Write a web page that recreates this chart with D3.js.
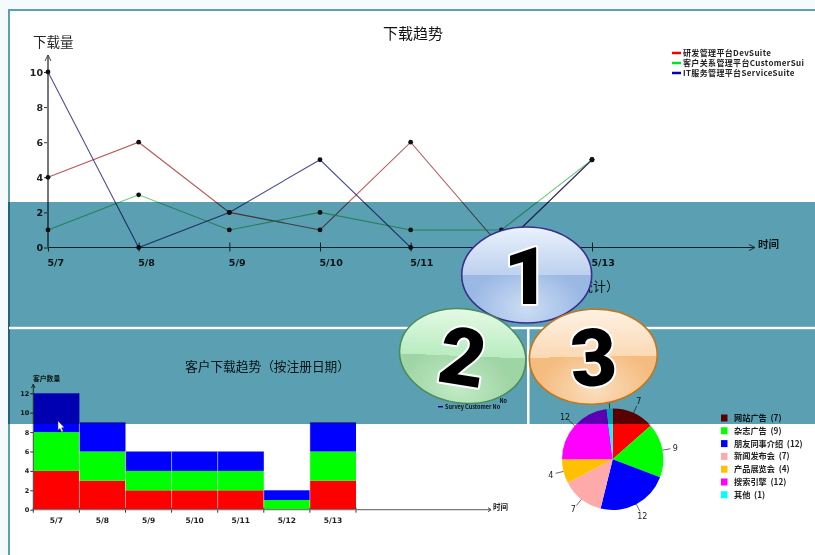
<!DOCTYPE html>
<html>
<head>
<meta charset="utf-8">
<script src="https://cdn.jsdelivr.net/npm/d3@7"></script>
<style>
html, body { margin: 0; padding: 0; background: #f5fafd; overflow: hidden; }
svg { display: block; }
text { font-family: "Noto Sans CJK SC", "DejaVu Sans", sans-serif; }
.soft { filter: blur(0.4px); }
.axis text { font-family: "DejaVu Sans", sans-serif; font-weight: bold; fill: #222; }
</style>
</head>
<body>
<script>
// line chart
const dates = ["5/7", "5/8", "5/9", "5/10", "5/11", "5/12", "5/13"];
const lineTicks = [0, 2, 4, 6, 8, 10];
const devDownloads = [4, 6, 2, 1, 6, 0, 5];
const customerDownloads = [1, 3, 1, 2, 1, 1, 5];
const serviceDownloads = [10, 0, 2, 5, 0, 0, 5];
const lineNames = ["研发管理平台DevSuite", "客户关系管理平台CustomerSui", "IT服务管理平台ServiceSuite"];

// stacked bars
const barTicks = [0, 2, 4, 6, 8, 10, 12];
const devCustomers = [4, 3, 2, 2, 2, 0, 3];
const crmCustomers = [4, 3, 2, 2, 2, 1, 3];
const surveyCustomers = [4, 3, 2, 2, 2, 1, 3];

// pie
const sources = ["网站广告", "杂志广告", "朋友同事介绍", "新闻发布会", "产品展览会", "搜索引擎", "其他"];
const sourceCounts = [7, 9, 12, 7, 4, 12, 1];
const sourceColors = ["#ff0000", "#00ff00", "#0000ff", "#ffaaaa", "#ffc000", "#ff00ff", "#00ffff"];

const width = 815, height = 555;
const svg = d3.select("body").append("svg").attr("width", width).attr("height", height);

svg.append("rect").attr("width", width).attr("height", height).attr("fill", "#f5fafd");
svg.append("rect").attr("x", 8).attr("y", 9).attr("width", width).attr("height", height).attr("fill", "#5a9fb2");
svg.append("rect").attr("x", 10).attr("y", 11).attr("width", width).attr("height", height).attr("fill", "#fff");

const charts = svg.append("g").attr("class", "soft");

function arrow(g, points) {
  g.append("path").attr("fill", "none").attr("stroke", "#444").attr("stroke-width", 1)
    .attr("d", d3.line()(points));
}

// ---- line chart ----
const xLine = d3.scalePoint().domain(dates).range([48, 592]);
const yLine = d3.scaleLinear().domain([0, 10]).range([247.5, 72]);

const lineChart = charts.append("g");

// the 5/12 tick label sits behind the first oval in the picture
lineChart.append("g").attr("class", "axis")
  .attr("transform", `translate(0, ${yLine(0)})`)
  .call(d3.axisBottom(xLine).tickSize(4).tickSizeOuter(0).tickPadding(5)
    .tickFormat(d => d === "5/12" ? "" : d))
  .call(g => g.select(".domain").remove())
  .call(g => g.selectAll("line").attr("y1", -5).attr("stroke", "#333"))
  .call(g => g.selectAll("text").attr("text-anchor", "start").attr("font-size", 9.5).attr("dx", -1).attr("dy", 9));

lineChart.append("g").attr("class", "axis")
  .attr("transform", `translate(${xLine("5/7")}, 0)`)
  .call(d3.axisLeft(yLine).tickValues(lineTicks).tickSize(4).tickSizeOuter(0).tickPadding(1))
  .call(g => g.select(".domain").remove())
  .call(g => g.selectAll("line").attr("stroke", "#333"))
  .call(g => g.selectAll("text").attr("font-size", 9.5));

// axis lines run past the data, with open arrow heads
lineChart.append("line").attr("x1", 48).attr("x2", 755).attr("y1", yLine(0)).attr("y2", yLine(0)).attr("stroke", "#333");
lineChart.append("line").attr("x1", 48).attr("x2", 48).attr("y1", yLine(0)).attr("y2", 55).attr("stroke", "#777").attr("stroke-width", 2);
arrow(lineChart, [[749, yLine(0) - 3], [755, yLine(0)], [749, yLine(0) + 3]]);
arrow(lineChart, [[45, 61], [48, 55], [51, 61]]);

const lineGenerator = d3.line().x((d, i) => xLine(dates[i])).y(d => yLine(d));
const lineSeries = [
  { values: devDownloads, color: "#a83030", legend: "#f00000" },
  { values: customerDownloads, color: "#40c060", legend: "#00e030" },
  { values: serviceDownloads, color: "#24247c", legend: "#0000c8" }
];

lineSeries.forEach(s => {
  lineChart.append("path").attr("fill", "none")
    .attr("stroke", s.color).attr("stroke-width", 1.1).attr("stroke-opacity", 0.8)
    .attr("d", lineGenerator(s.values));
});
lineSeries.forEach(s => {
  lineChart.selectAll(null).data(s.values).join("circle")
    .attr("cx", (d, i) => xLine(dates[i])).attr("cy", d => yLine(d))
    .attr("r", 2.4).attr("fill", "#111");
});

const lineLegend = lineChart.selectAll(".lg").data(lineSeries).join("g")
  .attr("transform", (d, i) => `translate(672, ${53 + i * 10})`);
lineLegend.append("line").attr("x2", 9).attr("stroke", d => d.legend).attr("stroke-width", 2.5);
lineLegend.append("text").attr("x", 11).attr("y", 3).attr("font-size", 8).attr("letter-spacing", 0.35).attr("font-weight", "bold")
  .attr("fill", "#222").text((d, i) => lineNames[i]);

lineChart.append("text").attr("x", 33).attr("y", 47).attr("font-size", 13.5).attr("fill", "#222").text("下载量");
lineChart.append("text").attr("x", 413).attr("y", 39).attr("text-anchor", "middle").attr("font-size", 15).attr("fill", "#111").text("下载趋势");
lineChart.append("text").attr("x", 758).attr("y", 248).attr("font-size", 10.5).attr("font-weight", "bold").attr("fill", "#222").text("时间");

// ---- second title, mostly hidden behind the first oval ----
charts.append("text").attr("x", 619).attr("y", 291).attr("text-anchor", "end").attr("font-size", 13).attr("fill", "#222").text("统计）");
charts.append("text").attr("x", 267.5).attr("y", 371).attr("text-anchor", "middle").attr("font-size", 12.7).attr("fill", "#222").text("客户下载趋势（按注册日期）");

// ---- stacked bars ----
const xBar = d3.scaleBand().domain(dates).range([33.3, 356]);
const yBar = d3.scaleLinear().domain([0, 12]).range([509.7, 393.3]);

const barChart = charts.append("g");
const stackRows = dates.map((d, i) => ({ date: d, dev: devCustomers[i], crm: crmCustomers[i], survey: surveyCustomers[i] }));
const stack = d3.stack().keys(["dev", "crm", "survey"])(stackRows);
const barColors = ["#ff0000", "#00ff00", "#0000ff"];

barChart.selectAll(".layer").data(stack).join("g")
  .attr("fill", (d, i) => barColors[i])
  .selectAll("rect").data(d => d).join("rect")
  .attr("x", d => xBar(d.data.date))
  .attr("width", xBar.bandwidth())
  .attr("y", d => yBar(d[1]))
  .attr("height", d => yBar(d[0]) - yBar(d[1]));

// thin pale edges between the columns
barChart.selectAll(".edge").data(stackRows).join("line")
  .attr("x1", d => xBar(d.date)).attr("x2", d => xBar(d.date))
  .attr("y1", yBar(0)).attr("y2", d => yBar(d.dev + d.crm + d.survey))
  .attr("stroke", "#fff").attr("stroke-opacity", 0.55).attr("stroke-width", 0.8);

barChart.append("g").attr("class", "axis")
  .attr("transform", `translate(0, ${yBar(0)})`)
  .call(d3.axisBottom(xBar).tickSize(0).tickPadding(8))
  .call(g => g.select(".domain").remove())
  .call(g => g.selectAll("text").attr("font-size", 7.5));

barChart.selectAll(".tick-edge").data(dates.concat("end")).join("line")
  .attr("x1", (d, i) => xBar.range()[0] + i * xBar.step())
  .attr("x2", (d, i) => xBar.range()[0] + i * xBar.step())
  .attr("y1", yBar(0) - 2).attr("y2", yBar(0) + 3).attr("stroke", "#333");

barChart.append("g").attr("class", "axis")
  .attr("transform", `translate(33.3, 0)`)
  .call(d3.axisLeft(yBar).tickValues(barTicks).tickSize(3).tickSizeOuter(0).tickPadding(1))
  .call(g => g.select(".domain").remove())
  .call(g => g.selectAll("line").attr("stroke", "#333"))
  .call(g => g.selectAll("text").attr("font-size", 6.5).attr("font-weight", "normal"));

barChart.append("line").attr("x1", 33.3).attr("x2", 491).attr("y1", yBar(0)).attr("y2", yBar(0)).attr("stroke", "#777").attr("stroke-width", 1.2);
barChart.append("line").attr("x1", 33.3).attr("x2", 33.3).attr("y1", yBar(0)).attr("y2", 384).attr("stroke", "#444");
arrow(barChart, [[488, yBar(0) - 2], [491, yBar(0)], [488, yBar(0) + 2]]);
arrow(barChart, [[31.5, 388], [33.3, 384], [35, 388]]);

barChart.append("text").attr("x", 33).attr("y", 381).attr("font-size", 6.8).attr("font-weight", "bold").attr("fill", "#222").text("客户数量");
barChart.append("text").attr("x", 493).attr("y", 510).attr("font-size", 7.5).attr("font-weight", "bold").attr("fill", "#222").text("时间");

// only the tail of this legend shows from behind the second oval
barChart.append("line").attr("x1", 438).attr("x2", 443).attr("y1", 406.7).attr("y2", 406.7).attr("stroke", "#0000c8").attr("stroke-width", 1.4);
barChart.append("text").attr("x", 445).attr("y", 409).attr("font-size", 5.5).attr("font-weight", "bold").attr("fill", "#222").text("Survey Customer No");
barChart.append("text").attr("x", 507).attr("y", 403).attr("text-anchor", "end").attr("font-size", 5.5).attr("font-weight", "bold").attr("fill", "#222").text("No");

// ---- pie ----
const pieCx = 612.7, pieCy = 459.3, pieR = 50.7;
const pieChart = charts.append("g").attr("transform", `translate(${pieCx}, ${pieCy})`);
const arcs = d3.pie().sort(null)(sourceCounts);
const arc = d3.arc().innerRadius(0).outerRadius(pieR);

pieChart.selectAll("path").data(arcs).join("path")
  .attr("d", arc).attr("fill", (d, i) => sourceColors[i]);

const midAngle = d => (d.startAngle + d.endAngle) / 2;
const polar = (a, r) => [Math.sin(a) * r, -Math.cos(a) * r];

pieChart.selectAll(".leader").data(arcs).join("path")
  .attr("fill", "none").attr("stroke", "#444").attr("stroke-width", 0.8)
  .attr("d", d => d3.line()([polar(midAngle(d), pieR), polar(midAngle(d), pieR + 8)]));

pieChart.selectAll(".pie-label").data(arcs).join("text")
  .attr("x", d => polar(midAngle(d), pieR + 13)[0])
  .attr("y", d => polar(midAngle(d), pieR + 13)[1] + 3)
  .attr("text-anchor", "middle").attr("font-size", 8).attr("fill", "#222")
  .style("font-family", "'DejaVu Sans', sans-serif")
  .text(d => d.data);

const pieLegend = charts.selectAll(".pie-legend").data(sources).join("g")
  .attr("transform", (d, i) => `translate(721, ${418 + i * 12.8})`);
pieLegend.append("rect").attr("y", -3.5).attr("width", 6.5).attr("height", 7).attr("fill", (d, i) => sourceColors[i]);
pieLegend.append("text").attr("x", 13).attr("y", 3).attr("font-size", 8.2).attr("font-weight", "bold").attr("fill", "#222")
  .text((d, i) => `${d}\u00a0\u00a0(${sourceCounts[i]})`);

// ---- teal band multiplied over everything below it ----
svg.append("rect").attr("x", 8).attr("y", 202).attr("width", width).attr("height", 222)
  .attr("fill", "#5a9fb2").style("mix-blend-mode", "multiply");
svg.append("rect").attr("x", 9).attr("y", 326.8).attr("width", width).attr("height", 2.4).attr("fill", "#fff");
svg.append("rect").attr("x", 527).attr("y", 327).attr("width", 2.5).attr("height", 97).attr("fill", "#fff");

// ---- numbered ovals ----
const ovals = [
  { n: "1", cx: 526.7, cy: 275, rx: 65, ry: 48, tilt: 0, border: "#3a2f8a", top: "#eaf2fc", upper: "#bdd0ee", lower: "#9ab8e4", glow: "#cfdff5" },
  { n: "2", cx: 462.7, cy: 356, rx: 63.5, ry: 47, tilt: 9, border: "#4a8c5c", top: "#e4fae4", upper: "#b8ecc0", lower: "#9fd4a4", glow: "#c4ecc8" },
  { n: "3", cx: 593.3, cy: 356.7, rx: 64, ry: 47.5, tilt: -4, border: "#c07820", top: "#fef2e4", upper: "#fbd9b4", lower: "#f5bc80", glow: "#fbe0c0" }
];
const defs = svg.append("defs");

ovals.forEach((o, i) => {
  // the glossy split stays level even on the tilted ovals
  const grad = defs.append("linearGradient").attr("id", `oval${i}`).attr("x1", 0).attr("x2", 0).attr("y1", 0).attr("y2", 1)
    .attr("gradientTransform", `rotate(${-o.tilt}, 0.5, 0.5)`);
  grad.append("stop").attr("offset", "0%").attr("stop-color", o.top);
  grad.append("stop").attr("offset", "50%").attr("stop-color", o.upper);
  grad.append("stop").attr("offset", "50%").attr("stop-color", o.lower);
  grad.append("stop").attr("offset", "100%").attr("stop-color", o.lower);

  const glow = defs.append("radialGradient").attr("id", `glow${i}`).attr("cx", "50%").attr("cy", "85%").attr("r", "45%");
  glow.append("stop").attr("offset", "0%").attr("stop-color", o.glow).attr("stop-opacity", 0.95);
  glow.append("stop").attr("offset", "100%").attr("stop-color", o.glow).attr("stop-opacity", 0);

  const g = svg.append("g").attr("transform", `translate(${o.cx}, ${o.cy}) rotate(${o.tilt})`);
  g.append("ellipse").attr("rx", o.rx).attr("ry", o.ry).attr("fill", `url(#oval${i})`).attr("stroke", o.border).attr("stroke-width", 1.6);
  g.append("ellipse").attr("rx", o.rx - 1).attr("ry", o.ry - 1).attr("fill", `url(#glow${i})`);
  g.append("text").attr("y", 29).attr("text-anchor", "middle")
    .attr("font-size", 80).attr("font-weight", 900)
    .style("font-family", "Roboto, 'Liberation Sans', sans-serif")
    .style("paint-order", "stroke")
    .attr("fill", "#000").attr("stroke", "#fff").attr("stroke-width", 4).attr("stroke-linejoin", "round")
    .text(o.n);
});

// mouse pointer caught in the screenshot
svg.append("path").attr("transform", "translate(58, 421)")
  .attr("d", "M0 0 L0 9 L2 7.4 L3.6 11 L5.2 10.2 L3.6 6.8 L6.2 6.6 Z")
  .attr("fill", "#fff").attr("stroke", "#445").attr("stroke-width", 0.5);
</script>
</body>
</html>
